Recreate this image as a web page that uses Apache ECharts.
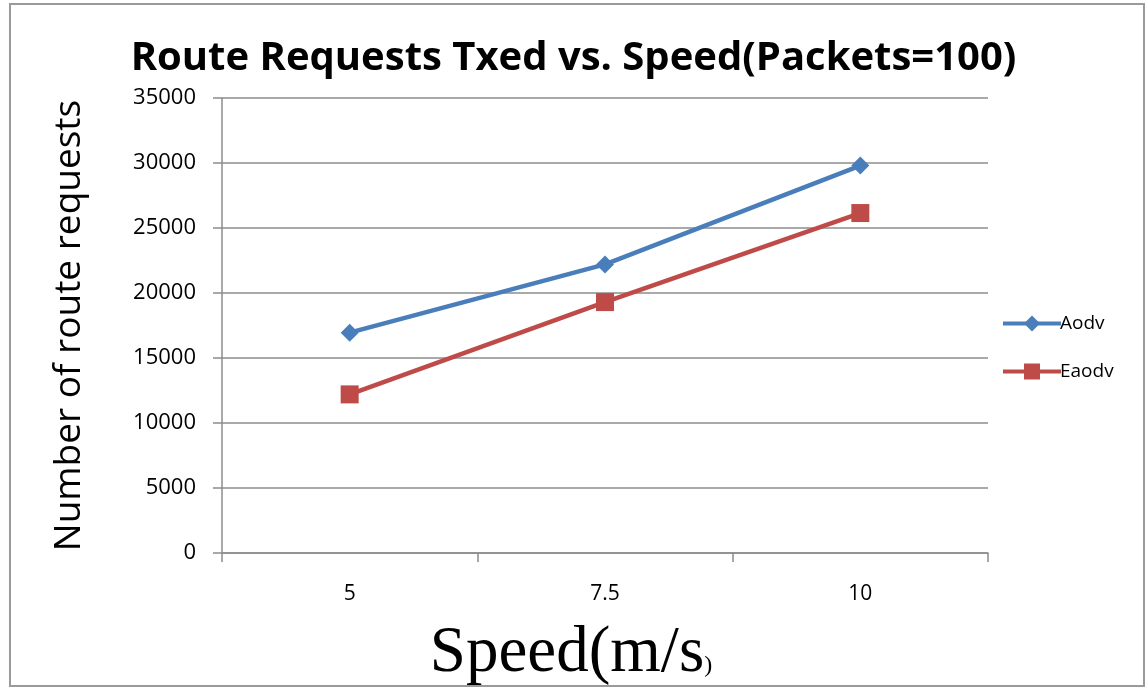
<!DOCTYPE html>
<html>
<head>
<meta charset="utf-8">
<script src="https://cdn.jsdelivr.net/npm/echarts@6/dist/echarts.min.js"></script>
<style>
  html, body { margin: 0; padding: 0; background: #fff; }
  #chart { width: 1147px; height: 688px; }
</style>
</head>
<body>
<div id="chart"></div>
<script>
const speeds = ['5', '7.5', '10'];
const aodv = [16950, 22200, 29800];
const eaodv = [12200, 19300, 26150];
const yTicks = { min: 0, max: 35000, interval: 5000 };

const chart = echarts.init(document.getElementById('chart'));
const gridGrey = '#8c8c8c';

chart.setOption({
  animation: false,
  backgroundColor: '#fff',
  graphic: [{
    type: 'rect',
    shape: { x: 10, y: 4, width: 1134, height: 682 },
    style: { fill: 'none', stroke: '#9a9a9a', lineWidth: 2 }
  }],
  title: {
    text: 'Route Requests Txed vs. Speed(Packets=100)',
    left: 'center',
    top: 34,
    textStyle: { fontFamily: 'Open Sans', fontWeight: 'bold', fontSize: 40, color: '#000' }
  },
  grid: { left: 222, right: 159, top: 98, bottom: 135, outerBoundsMode: 'none' },
  legend: {
    orient: 'vertical',
    left: 996,
    top: 309,
    itemGap: 29,
    itemWidth: 58,
    itemHeight: 20,
    lineStyle: { width: 4 },
    textStyle: { fontFamily: 'Open Sans', fontSize: 19, color: '#000', padding: [0, 0, 0, -6] },
    data: ['Aodv', 'Eaodv']
  },
  xAxis: {
    type: 'category',
    data: speeds,
    boundaryGap: true,
    axisLine: { lineStyle: { color: gridGrey, width: 1.5 } },
    axisTick: { show: true, length: 9, alignWithLabel: false, lineStyle: { color: gridGrey, width: 1.5 } },
    axisLabel: { margin: 31, fontFamily: 'Open Sans', fontSize: 21, color: '#000' },
    name: '{big|Speed(m/s}{small|)}',
    nameLocation: 'middle',
    nameGap: 68,
    nameTextStyle: {
      padding: [0, 68, 0, 0],
      rich: {
        big: { fontFamily: 'Liberation Serif', fontSize: 65, color: '#000' },
        small: { fontFamily: 'Liberation Serif', fontSize: 24, color: '#000', verticalAlign: 'bottom', padding: [0, 0, 8, 0] }
      }
    }
  },
  yAxis: {
    type: 'value',
    min: yTicks.min,
    max: yTicks.max,
    interval: yTicks.interval,
    axisLine: { show: true, lineStyle: { color: gridGrey, width: 1.5 } },
    axisTick: { show: true, length: 9, lineStyle: { color: gridGrey, width: 1.5 } },
    splitLine: { lineStyle: { color: gridGrey, width: 1.5 } },
    axisLabel: { margin: 26, fontFamily: 'Open Sans', fontSize: 22, color: '#000', formatter: v => String(v) },
    name: 'Number of route requests',
    nameLocation: 'middle',
    nameGap: 134,
    nameTextStyle: { fontFamily: 'Open Sans', fontSize: 37, color: '#000' }
  },
  series: [
    {
      name: 'Aodv',
      type: 'line',
      data: aodv,
      symbol: 'diamond',
      symbolSize: 18,
      itemStyle: { color: '#4a7ebb' },
      lineStyle: { color: '#4a7ebb', width: 4.5 }
    },
    {
      name: 'Eaodv',
      type: 'line',
      data: eaodv,
      symbol: 'rect',
      symbolSize: 18,
      itemStyle: { color: '#be4b48' },
      lineStyle: { color: '#be4b48', width: 4.5 }
    }
  ]
});
</script>
</body>
</html>
